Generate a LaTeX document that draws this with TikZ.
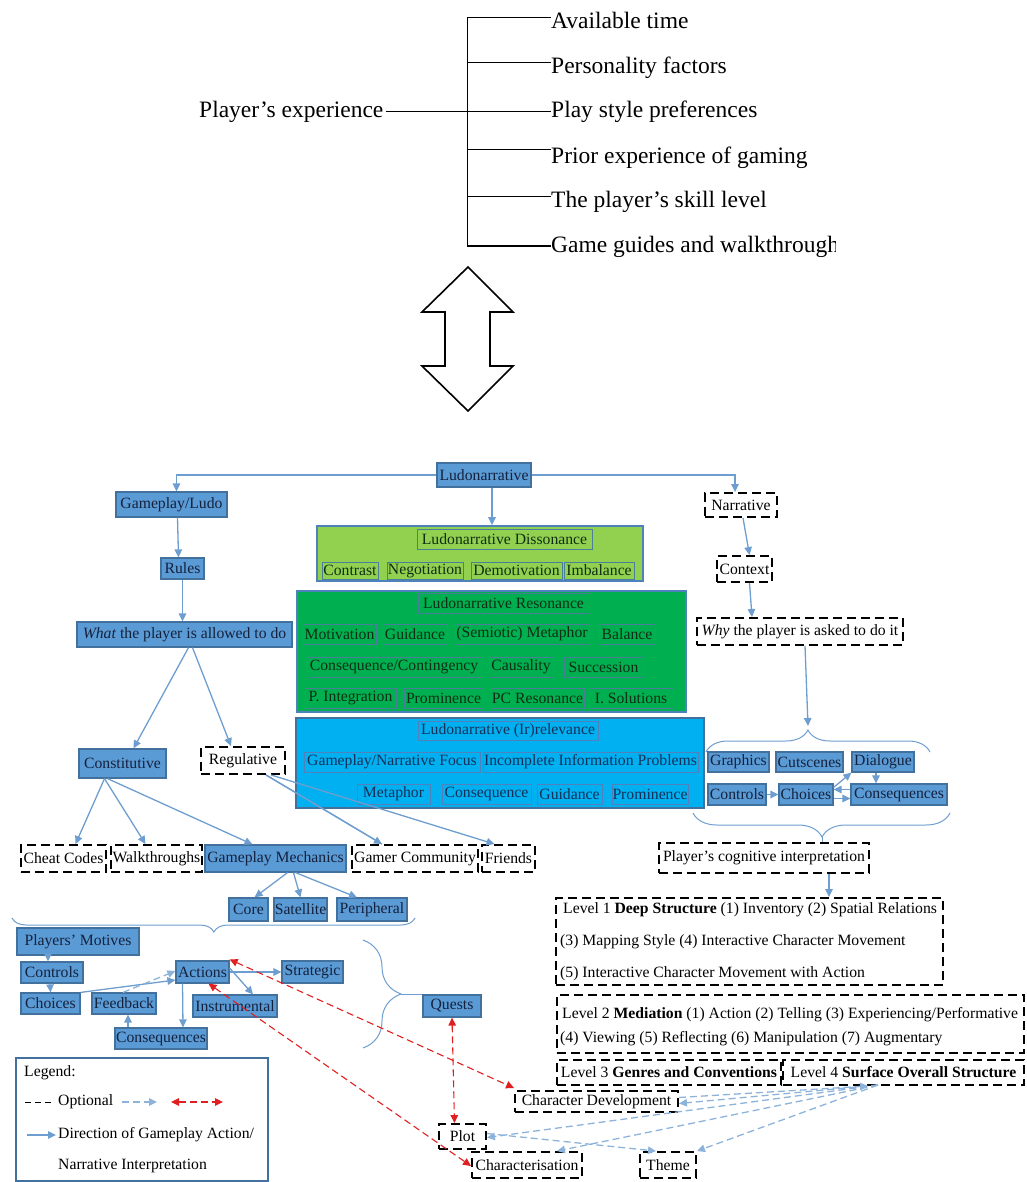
\documentclass[tikz,border=0pt]{standalone}
\usepackage{fontspec}
\setmainfont{Liberation Serif}
\usetikzlibrary{arrows.meta,decorations.pathreplacing}

\definecolor{boxfill}{HTML}{5B9BD5}
\definecolor{boxline}{HTML}{41719C}
\definecolor{boxtext}{HTML}{14213D}
\definecolor{link}{HTML}{6E9ECF}
\definecolor{dlink}{HTML}{8DB3DB}
\definecolor{redlink}{HTML}{E02020}
\definecolor{dissfill}{HTML}{92D050}
\definecolor{resfill}{HTML}{00B050}
\definecolor{irrfill}{HTML}{00B0F0}
\definecolor{panelline}{HTML}{4F81BD}
\definecolor{itemline}{HTML}{4A7F9A}
\definecolor{greentext}{HTML}{102E14}
\definecolor{irrtext}{HTML}{16305A}

\newcommand\nodefont{\fontsize{15.7}{18}\selectfont}
\newcommand\headfont{\fontsize{23.5}{28}\selectfont}

% box given by its corners (x1,y1)-(x2,y2)
\newcommand\place[7]{%
  \pgfmathsetmacro\bxw{#5-#3}\pgfmathsetmacro\bxh{#6-#4}%
  \pgfmathsetmacro\bxcx{(#3+#5)/2}\pgfmathsetmacro\bxcy{(#4+#6)/2}%
  \node[#1, minimum width=\bxw pt, minimum height=\bxh pt] (#2) at (\bxcx,\bxcy) {#7};}

\tikzset{
  every node/.style={inner sep=0pt, font=\nodefont},
  bluebox/.style={draw=boxline, fill=boxfill, line width=1.2pt, text=boxtext},
  dbox/.style={draw=black, fill=white, line width=1.9pt, dash pattern=on 9pt off 5pt},
  dframe/.style={draw=black, line width=1.9pt, dash pattern=on 9pt off 5pt},
  panel/.style={draw=panelline, line width=1.6pt},
  gitem/.style={draw=itemline, line width=0.9pt, text=greentext},
  bitem/.style={draw=panelline, line width=0.9pt, text=irrtext},
  arr/.style={draw=link, line width=1.3pt, -{Triangle[length=8pt,width=7.5pt]}},
  darr/.style={draw=dlink, line width=1.3pt, dash pattern=on 7pt off 4pt, -{Triangle[length=8pt,width=7.5pt]}},
  rarr/.style={draw=redlink, line width=1.1pt, dash pattern=on 7pt off 4pt,
    {Triangle[length=8pt,width=7.5pt]}-{Triangle[length=8pt,width=7.5pt]}},
  bracec/.style={draw=link, line width=1pt},
  tree/.style={draw=black, line width=1pt},
  lefttext/.style={anchor=west, text=black},
}

\begin{document}
\begin{tikzpicture}[x=1pt, y=-1pt]
\useasboundingbox (0,0) rectangle (1026,1182);

% ---------------- player's experience ----------------
\node[anchor=west, font=\headfont, inner sep=2pt] (pe) at (197,112) {Player’s experience};
\node[anchor=west, font=\headfont] (t1) at (551,20) {Available time};
\node[anchor=west, font=\headfont] (t2) at (551,68) {Personality factors};
\node[anchor=west, font=\headfont] (t3) at (551,112) {Play style preferences};
\node[anchor=west, font=\headfont] (t4) at (551,158) {Prior experience of gaming};
\node[anchor=west, font=\headfont] (t5) at (551,202) {The player’s skill level};
\begin{scope}
  \clip (540,225) rectangle (835,272);
  \node[anchor=west, font=\headfont] (t6) at (551,247) {Game guides and walkthroughs};
\end{scope}
\coordinate (j1) at (467,18);
\coordinate (j2) at (467,63);
\coordinate (j4) at (467,150);
\coordinate (j5) at (467,197);
\coordinate (j6) at (467,246);
\draw[tree] (j1) -- (j6);
\draw[tree] (j1) -- (j1 -| t1.west);
\draw[tree] (j2) -- (j2 -| t2.west);
\draw[tree] (j4) -- (j4 -| t4.west);
\draw[tree] (j5) -- (j5 -| t5.west);
\draw[tree] (j6) -- (j6 -| t6.west);
\draw[tree] (pe.east) -- (pe.east -| t3.west);

% two-way block arrow
\draw[line width=1.6pt, line join=miter]
  (468,267) -- (513,312) -- (490,312) -- (490,366) -- (513,366) -- (468,411)
  -- (422,366) -- (445,366) -- (445,312) -- (422,312) -- cycle;

% ---------------- braces ----------------
\coordinate (bt1) at (808,726);
\draw[bracec, decorate, decoration={brace, amplitude=22pt, aspect=0.455}] (706,752) -- (930,752);
\draw[bracec, decorate, decoration={brace, amplitude=24pt, aspect=0.498}] (950,813) -- (693,813);
\draw[bracec, decorate, decoration={brace, amplitude=14pt, aspect=0.499}] (415,918) -- (12,918);
\draw[bracec, decorate, decoration={brace, amplitude=38pt, aspect=0.5}] (363,940) -- (363,1048);
\coordinate (bt2) at (822,837);
\coordinate (bt4) at (401,994);

% ---------------- ludonarrative panels ----------------
\place{panel, fill=dissfill}{diss}{317}{526}{643}{581}{}
\place{gitem}{dissT}{417}{529}{592}{549}{Ludonarrative Dissonance}
\place{gitem}{d1}{322}{562}{378}{579}{Contrast}
\place{gitem}{d2}{387}{562}{463}{579}{Negotiation}
\place{gitem}{d3}{471}{562}{562}{579}{Demotivation}
\place{gitem}{d4}{564}{562}{634}{579}{Imbalance}

\place{panel, fill=resfill}{res}{297}{591}{686}{712}{}
\place{gitem}{resT}{418}{593}{589}{613}{Ludonarrative Resonance}
\place{gitem}{r1}{303}{624}{376}{644}{Motivation}
\place{gitem}{r2}{383}{624}{447}{644}{Guidance}
\place{gitem}{r3}{455}{624}{589}{644}{(Semiotic) Metaphor}
\place{gitem}{r4}{599}{624}{655}{644}{Balance}
\place{gitem}{r5}{307}{657}{481}{677}{Consequence/Contingency}
\place{gitem}{r6}{489}{657}{553}{677}{Causality}
\place{gitem}{r7}{564}{657}{643}{677}{Succession}
\place{gitem}{r8}{305}{688}{396}{708}{P. Integration}
\place{gitem}{r9}{404}{688}{483}{708}{Prominence}
\place{gitem}{r10}{491}{688}{584}{708}{PC Resonance}
\place{gitem}{r11}{589}{688}{673}{708}{I. Solutions}

\place{panel, draw=boxline, fill=irrfill}{irr}{296}{718}{704}{808}{}
\place{bitem}{irrT}{418}{721}{598}{740}{Ludonarrative (Ir)relevance}
\place{bitem}{i1}{304}{752}{480}{772}{Gameplay/Narrative Focus}
\place{bitem}{i2}{483}{752}{698}{772}{Incomplete Information Problems}
\place{bitem}{i3}{357}{784}{430}{804}{Metaphor}
\place{bitem}{i4}{442}{784}{531}{804}{Consequence}
\place{bitem}{i5}{537}{784}{602}{804}{Guidance}
\place{bitem}{i6}{612}{784}{688}{804}{Prominence}

% ---------------- gameplay side ----------------
\place{bluebox}{lud}{437}{463}{531}{487}{Ludonarrative}
\place{bluebox}{gl}{116}{492}{227}{517}{Gameplay/Ludo}
\place{bluebox}{rules}{161}{558}{204}{579}{Rules}
\place{bluebox}{what}{77}{622}{292}{647}{\textit{What} the player is allowed to do}
\place{bluebox}{const}{79}{749}{166}{778}{Constitutive}
\place{dbox}{reg}{201}{747}{285}{774}{Regulative}
\place{dbox}{cheat}{21}{845}{106}{872}{Cheat Codes}
\place{dbox}{walk}{111}{845}{202}{872}{Walkthroughs}
\place{bluebox}{gm}{205}{845}{346}{872}{Gameplay Mechanics}
\place{dbox}{gc}{352}{845}{478}{872}{Gamer Community}
\place{dbox}{fr}{482}{845}{535}{872}{Friends}
\place{bluebox}{core}{229}{898}{268}{921}{Core}
\place{bluebox}{sat}{274}{898}{327}{921}{Satellite}
\place{bluebox}{per}{337}{898}{407}{921}{Peripheral}

\place{bluebox}{pm}{17}{928}{139}{955}{Players’ Motives}
\place{bluebox}{ctrl}{21}{962}{83}{983}{Controls}
\place{bluebox}{cho}{21}{993}{80}{1014}{Choices}
\place{bluebox}{fb}{92}{993}{156}{1014}{Feedback}
\place{bluebox}{cons}{115}{1028}{207}{1049}{Consequences}
\place{bluebox}{act}{176}{961}{229}{983}{Actions}
\place{bluebox}{strat}{282}{961}{343}{983}{Strategic}
\place{bluebox}{inst}{193}{995}{277}{1017}{Instrumental}
\place{bluebox}{quests}{423}{995}{481}{1017}{Quests}

% ---------------- narrative side ----------------
\place{dbox}{narr}{705}{493}{777}{517}{Narrative}
\place{dbox}{ctx}{717}{556}{772}{582}{Context}
\place{dbox}{why}{697}{618}{903}{645}{\textit{Why} the player is asked to do it}
\place{bluebox}{gfx}{708}{752}{769}{772}{Graphics}
\place{bluebox}{cut}{776}{752}{843}{772}{Cutscenes}
\place{bluebox}{dia}{852}{752}{914}{772}{Dialogue}
\place{bluebox}{ctrlb}{708}{784}{766}{805}{Controls}
\place{bluebox}{chob}{779}{784}{833}{805}{Choices}
\place{bluebox}{consb}{851}{784}{947}{805}{Consequences}
\place{dbox}{cog}{659}{843}{869}{873}{Player’s cognitive interpretation}

\place{dframe}{lv1}{556}{898}{943}{985}{}
\node[lefttext] (lv1a) at (563,910) {Level 1 \textbf{Deep Structure} (1) Inventory (2) Spatial Relations};
\node[lefttext] (lv1b) at (560,942) {(3) Mapping Style (4) Interactive Character Movement};
\node[lefttext] (lv1c) at (560,974) {(5) Interactive Character Movement with Action};
\place{dframe}{lv2}{557}{995}{1024}{1053}{}
\node[lefttext] (lv2a) at (562,1015) {Level 2 \textbf{Mediation} (1) Action (2) Telling (3) Experiencing/Performative};
\node[lefttext] (lv2b) at (560,1039) {(4) Viewing (5) Reflecting (6) Manipulation (7) Augmentary};
\place{dbox}{lv3}{557}{1060}{781}{1085}{Level 3 \textbf{Genres and Conventions}}
\place{dbox}{lv4}{783}{1060}{1024}{1085}{Level 4 \textbf{Surface Overall Structure}}

\place{dbox}{chardev}{515}{1091}{678}{1112}{Character Development}
\place{dbox}{plot}{439}{1124}{486}{1149}{Plot}
\place{dbox}{charis}{472}{1152}{582}{1178}{Characterisation}
\place{dbox}{theme}{640}{1152}{696}{1178}{Theme}

% ---------------- legend ----------------
\place{draw=boxline, line width=1.4pt, fill=white}{legend}{16}{1058}{268}{1181}{}
\node[lefttext] (legT) at (24,1073) {Legend:};
\node[lefttext] (legO) at (58,1102) {Optional};
\node[lefttext] (legD) at (58,1135) {Direction of Gameplay Action/};
\node[lefttext] (legN) at (58,1166) {Narrative Interpretation};
\coordinate (lg1) at (25,1102);  \coordinate (lg2) at (53,1102);
\coordinate (lg3) at (122,1102); \coordinate (lg4) at (157,1102);
\coordinate (lg5) at (171,1102); \coordinate (lg6) at (223,1102);
\coordinate (lg7) at (27,1135);  \coordinate (lg8) at (56,1135);
\draw[black, line width=1pt, dash pattern=on 6pt off 4pt] (lg1) -- (lg2);
\draw[darr] (lg3) -- (lg4);
\draw[rarr] (lg5) -- (lg6);
\draw[arr] (lg7) -- (lg8);

% ---------------- connectors ----------------
\draw[arr] (lud.west) -| ([xshift=5pt]gl.north);
\draw[arr] (lud.east) -| ([xshift=-6pt]narr.north);
\draw[arr] ([xshift=8pt]lud.south) -- ([xshift=8pt]lud.south |- diss.north);
\draw[arr] ([xshift=6pt]gl.south) -- ([xshift=-4pt]rules.north);
\draw[arr] (rules.south) -- (rules.south |- what.north);
\draw[arr] ([xshift=4pt]what.south) -- ([xshift=11pt]const.north);
\draw[arr] ([xshift=8pt]what.south) -- ([xshift=-12pt]reg.north);
\draw[arr] ([xshift=-18pt]const.south) -- ([xshift=12pt]cheat.south |- cheat.north);
\draw[arr] ([xshift=-18pt]const.south) -- ([xshift=-11pt]walk.north);
\draw[arr] ([xshift=-15pt]const.south) -- ([xshift=-23pt]gm.north);
\draw[arr] ([xshift=23pt]reg.south) -- ([xshift=-33pt]gc.north);
\draw[arr] ([xshift=28pt]reg.south) -- ([xshift=-14pt]fr.north);
\draw[arr] ([xshift=12pt]gm.south) -- ([xshift=6pt]core.north);
\draw[arr] ([xshift=18pt]gm.south) -- (sat.north);
\draw[arr] ([xshift=20pt]gm.south) -- ([xshift=-15pt]per.north);

\draw[arr] ([xshift=-30pt]pm.south) -- ([xshift=-4pt]ctrl.north);
\draw[arr] ([xshift=-2pt]ctrl.south) -- (cho.north);
\draw[arr] (cho.north east) -- ([yshift=-8pt]act.west);
\draw[darr] ([xshift=-1pt]fb.north) -- ([yshift=1pt]act.west);
\draw[arr] ([xshift=-33pt]cons.north) -- ([xshift=4pt]fb.south);
\draw[arr] ([xshift=-20pt]act.south) -- ([xshift=22pt]cons.north);
\draw[arr] (act.east) -- (strat.west);
\draw[arr] ([yshift=4pt]act.east) -- ([xshift=18pt]inst.north);
\draw[bracec] (bt4) -- (quests.west |- bt4);

\draw[arr] ([xshift=2pt]narr.south) -- ([xshift=5pt]ctx.north);
\draw[arr] ([xshift=5pt]ctx.south) -- ([xshift=-48pt]why.north);
\draw[arr] ([xshift=5pt]why.south) -- (bt1);
\draw[arr] (ctrlb.east) -- (chob.west);
\draw[arr] ([yshift=-4pt]chob.north east) -- (dia.south west);
\draw[arr] ([xshift=-7pt]dia.south) -- ([xshift=-7pt]dia.south |- consb.north);
\draw[arr] ([yshift=-4pt]chob.east) -- ([yshift=-4pt]consb.west);
\draw[arr] ([yshift=5pt]consb.west) -- ([yshift=5pt]chob.east);
\draw[bracec] (bt2) -- (bt2 |- cog.north);
\draw[arr] ([xshift=65pt]cog.south) -- ([xshift=65pt]cog.south |- lv1.north);

% regulative links cross the panel
\draw[draw=link, line width=1.3pt] ([xshift=23pt]reg.south) -- ([xshift=-33pt]gc.north);

% optional links
\draw[rarr] ([yshift=1pt]act.north east) -- ([yshift=2pt]chardev.north west);
\draw[rarr] ([xshift=6pt]act.south) -- ([yshift=-1pt]charis.west);
\draw[rarr] (quests.south) -- ([xshift=-8pt]plot.north);

\coordinate (l4a) at (878,1085);
\coordinate (l4b) at (868,1086);
\draw[darr] (l4a) -- ([yshift=-2pt]chardev.east);
\draw[darr] ([yshift=4pt]chardev.east) -- (l4b);
\draw[darr] (l4a) -- ([yshift=-1pt]plot.east);
\draw[darr] (l4a) -- ([xshift=30pt]charis.north);
\draw[darr] ([yshift=3pt]plot.east) -- ([xshift=-12pt]theme.north);
\draw[darr] (l4a) -- (theme.north east);

\end{tikzpicture}
\end{document}
